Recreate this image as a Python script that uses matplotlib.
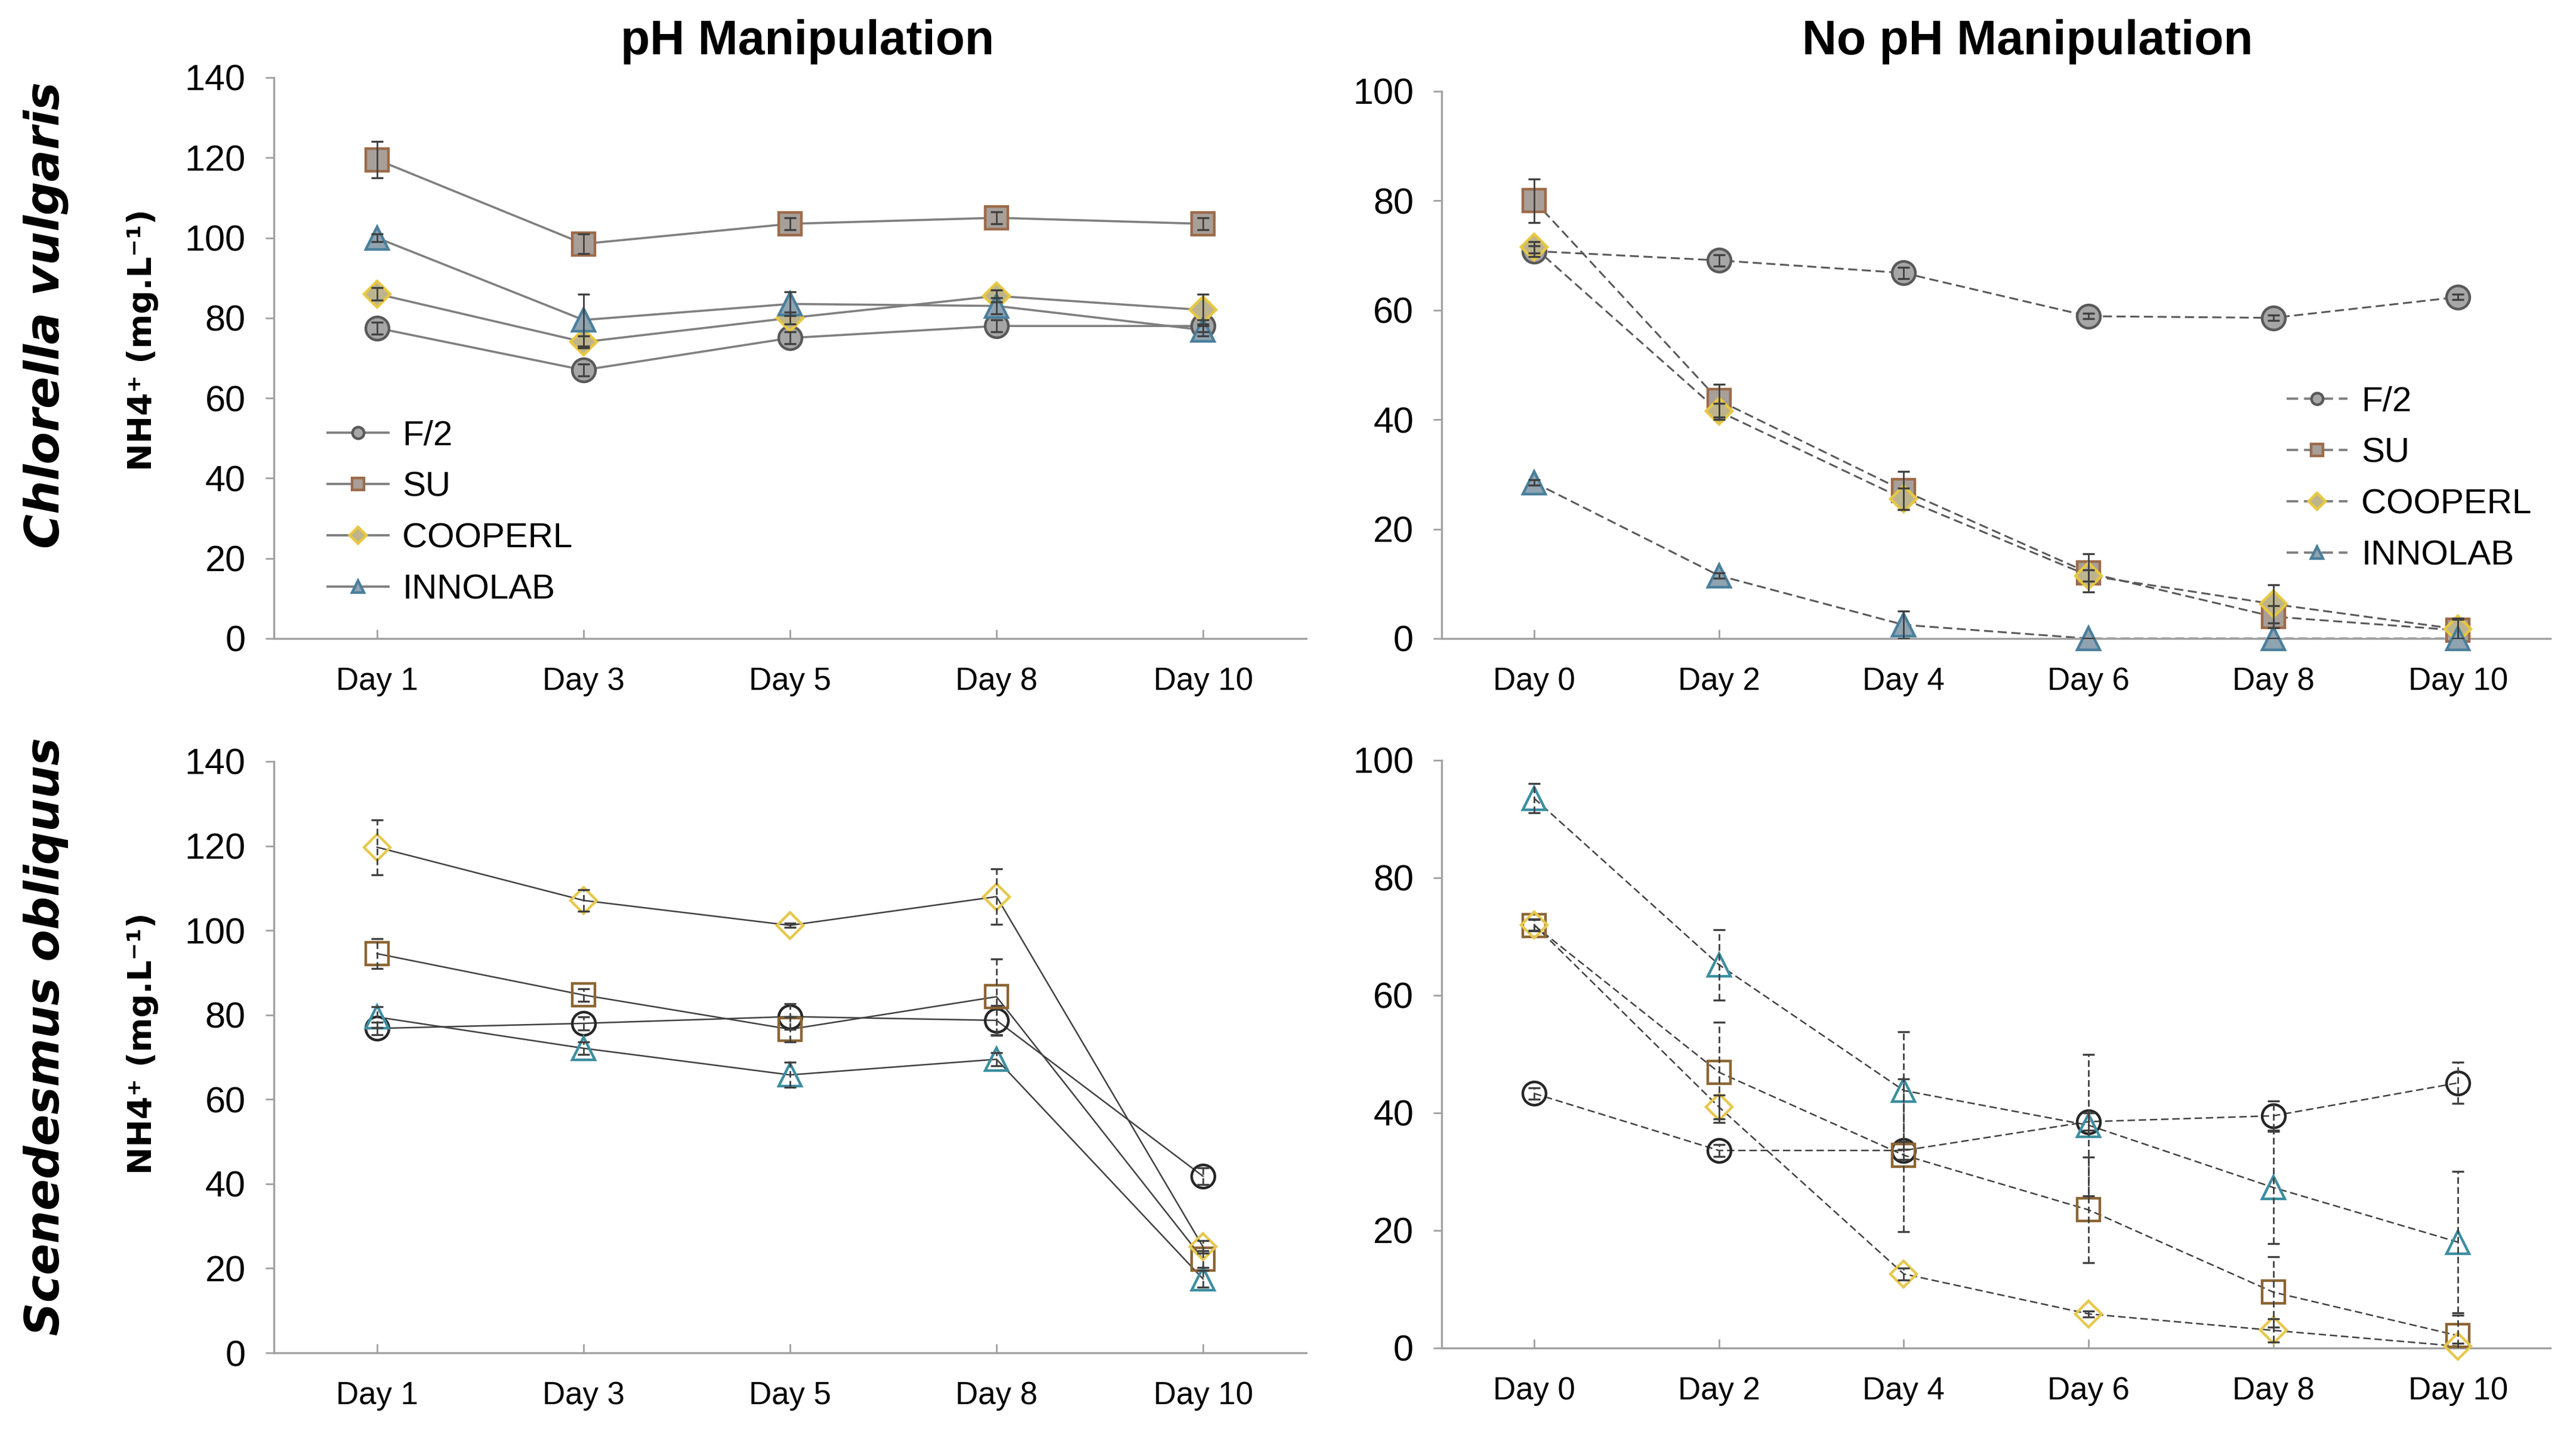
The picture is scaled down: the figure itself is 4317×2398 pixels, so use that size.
import matplotlib
matplotlib.use('Agg')
import matplotlib.pyplot as plt
from matplotlib.lines import Line2D
from matplotlib import font_manager

# data
days_ph = ['Day 1', 'Day 3', 'Day 5', 'Day 8', 'Day 10']
days_no = ['Day 0', 'Day 2', 'Day 4', 'Day 6', 'Day 8', 'Day 10']
media = ['F/2', 'SU', 'COOPERL', 'INNOLAB']

# Chlorella vulgaris, pH manipulation
cv_ph_f2 = [77.5, 67.0, 75.0, 78.0, 78.0]
cv_ph_su = [119.5, 98.5, 103.5, 105.0, 103.5]
cv_ph_coop = [86.0, 74.0, 80.0, 85.5, 82.0]
cv_ph_inno = [100.0, 79.5, 83.5, 83.0, 77.0]
cv_ph_f2_err = [1.5, 1.5, 1.5, 1.5, 1.5]
cv_ph_su_err = [4.5, 2.5, 1.5, 1.5, 1.5]
cv_ph_coop_err = [1.5, 1.5, 1.5, 1.5, 4.0]
cv_ph_inno_err = [1.0, 6.5, 3.0, 2.0, 1.5]

# Chlorella vulgaris, no pH manipulation
cv_no_f2 = [70.8, 69.1, 66.8, 58.9, 58.6, 62.4]
cv_no_su = [80.0, 43.5, 27.0, 12.0, 4.0, 1.5]
cv_no_coop = [71.5, 41.5, 25.5, 11.5, 6.3, 1.7]
cv_no_inno = [28.5, 11.5, 2.5, 0.0, 0.0, 0.0]
cv_no_f2_err = [1.0, 1.0, 1.0, 0.5, 0.5, 0.5]
cv_no_su_err = [4.0, 3.0, 3.5, 3.5, 2.0, 2.0]
cv_no_coop_err = [1.0, 1.5, 2.0, 1.0, 3.5, 2.0]
cv_no_inno_err = [0.5, 0.5, 2.5, 0.0, 0.0, 0.0]

# Scenedesmus obliquus, pH manipulation
so_ph_f2 = [76.8, 78.0, 79.6, 78.7, 41.8]
so_ph_su = [94.5, 84.7, 76.6, 84.3, 22.2]
so_ph_coop = [119.7, 107.1, 101.2, 108.0, 25.1]
so_ph_inno = [79.5, 72.1, 65.8, 69.5, 17.5]
so_ph_f2_err = [1.5, 1.5, 3.0, 3.5, 2.0]
so_ph_su_err = [3.5, 1.5, 3.0, 9.0, 2.0]
so_ph_coop_err = [6.5, 2.5, 0.5, 6.5, 1.5]
so_ph_inno_err = [2.5, 1.5, 3.0, 1.5, 2.0]

# Scenedesmus obliquus, no pH manipulation
so_no_f2 = [43.3, 33.6, 33.6, 38.5, 39.5, 45.1]
so_no_su = [71.9, 46.9, 32.8, 23.5, 9.5, 2.1]
so_no_coop = [72.0, 41.0, 12.6, 5.8, 3.0, 0.3]
so_no_inno = [93.5, 65.2, 43.8, 37.9, 27.3, 18.0]
so_no_f2_err = [1.0, 1.0, 1.5, 1.5, 2.5, 3.5]
so_no_su_err = [1.0, 8.5, 13.0, 9.0, 6.0, 3.5]
so_no_coop_err = [1.0, 2.0, 1.0, 0.5, 2.0, 0.5]
so_no_inno_err = [2.5, 6.0, 10.0, 12.0, 9.5, 12.0]

names = [f.name for f in font_manager.fontManager.ttflist]
narrow = 'Liberation Sans Narrow' if 'Liberation Sans Narrow' in names else 'Liberation Sans'
plt.rcParams['font.family'] = [narrow, 'DejaVu Sans']

markers = ['o', 's', 'D', '^']
msizes = [14, 14, 11, 14]
filled_face = ['#A6A6A6', '#A89F99', '#BDB48E', '#8FA3B0']
filled_edge = ['#595959', '#9C6B4A', '#E8C840', '#4A7F9C']
open_edge = ['#262626', '#8B6533', '#E6C84E', '#3C8EA0']

fig = plt.figure(figsize=(21.585, 11.99), dpi=200)
ax_tl = fig.add_axes([0.1063, 0.5538, 0.4008, 0.3920])
ax_tr = fig.add_axes([0.5597, 0.5538, 0.4304, 0.3824])
ax_bl = fig.add_axes([0.1063, 0.0546, 0.4008, 0.4133])
ax_br = fig.add_axes([0.5597, 0.0580, 0.4304, 0.4108])


def draw(ax, cats, series, errs, ymax, step, filled, ls, lc, lw, legend=None):
    x = list(range(len(cats)))
    for i, (vals, err) in enumerate(zip(series, errs)):
        if filled:
            fc, ec = filled_face[i], filled_edge[i]
        else:
            fc, ec = 'none', open_edge[i]
        ax.plot(x, vals, color=lc, lw=lw, ls=ls, zorder=2, clip_on=False)
        ax.plot(x, vals, ls='none', marker=markers[i], ms=msizes[i],
                mfc=fc, mec=ec, mew=1.6, zorder=3, clip_on=False)
        eb = ax.errorbar(x, vals, yerr=err, fmt='none', ecolor='#404040',
                         elinewidth=1.0, capsize=3.6, capthick=1.2, zorder=4)
        if not filled:
            for c in eb[2]:
                c.set_linestyle((0, (4, 2)))
    ax.set_xlim(-0.5, len(cats) - 0.5)
    ax.set_ylim(0, ymax)
    ax.set_yticks(range(0, ymax + 1, step))
    ax.set_xticks(x)
    ax.set_xticklabels(cats)
    for s in ['top', 'right']:
        ax.spines[s].set_visible(False)
    for s in ['left', 'bottom']:
        ax.spines[s].set_color('#A0A0A0')
        ax.spines[s].set_linewidth(1.2)
    ax.tick_params(axis='x', direction='in', length=5.5, width=1.0,
                   color='#A0A0A0', labelsize=19, pad=17)
    ax.tick_params(axis='y', direction='out', length=5, width=1.0,
                   color='#A0A0A0', labelsize=22, pad=12)
    if legend is not None:
        handles = []
        for i in range(4):
            handles.append(Line2D([0], [0], color='#808080', lw=1.4, ls=ls,
                                  marker=markers[i], ms=7, mfc=filled_face[i],
                                  mec=filled_edge[i], mew=1.6))
        ax.legend(handles, media, loc='upper left', bbox_to_anchor=legend,
                  frameon=False, fontsize=21, handlelength=1.75,
                  handletextpad=0.4, labelspacing=0.55, borderaxespad=0,
                  borderpad=0)


draw(ax_tl, days_ph, [cv_ph_f2, cv_ph_su, cv_ph_coop, cv_ph_inno],
     [cv_ph_f2_err, cv_ph_su_err, cv_ph_coop_err, cv_ph_inno_err],
     140, 20, True, '-', '#7F7F7F', 1.3, legend=(0.052, 0.39))
draw(ax_tr, days_no, [cv_no_f2, cv_no_su, cv_no_coop, cv_no_inno],
     [cv_no_f2_err, cv_no_su_err, cv_no_coop_err, cv_no_inno_err],
     100, 20, True, (0, (5, 2.5)), '#595959', 1.1, legend=(0.762, 0.462))
draw(ax_bl, days_ph, [so_ph_f2, so_ph_su, so_ph_coop, so_ph_inno],
     [so_ph_f2_err, so_ph_su_err, so_ph_coop_err, so_ph_inno_err],
     140, 20, False, '-', '#404040', 0.9)
draw(ax_br, days_no, [so_no_f2, so_no_su, so_no_coop, so_no_inno],
     [so_no_f2_err, so_no_su_err, so_no_coop_err, so_no_inno_err],
     100, 20, False, (0, (5, 2.5)), '#404040', 0.9)

fig.text(0.3134, 0.9708, 'pH Manipulation', ha='center', va='center',
         fontsize=29, fontweight='bold', family='Liberation Sans')
fig.text(0.787, 0.9708, 'No pH Manipulation', ha='center', va='center',
         fontsize=29, fontweight='bold', family='Liberation Sans')

ylab = 'NH4\u207a (mg.L\u207b\u00b9)'
fig.text(0.0553, 0.7623, ylab, rotation=90, ha='center', va='center',
         fontsize=20, fontweight='bold', family='DejaVu Sans')
fig.text(0.0553, 0.271, ylab, rotation=90, ha='center', va='center',
         fontsize=20, fontweight='bold', family='DejaVu Sans')
fig.text(0.0178, 0.780, 'Chlorella vulgaris', rotation=90, ha='center',
         va='center', fontsize=28.5, fontweight='bold', style='italic',
         family='DejaVu Sans')
fig.text(0.0178, 0.2757, 'Scenedesmus obliquus', rotation=90, ha='center',
         va='center', fontsize=28, fontweight='bold', style='italic',
         family='DejaVu Sans')

fig.savefig('out.png', dpi=200)
